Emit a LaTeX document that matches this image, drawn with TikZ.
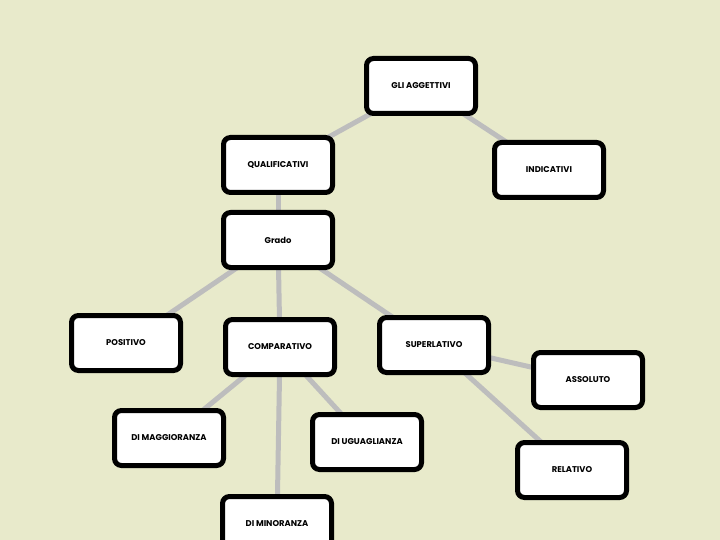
\documentclass[tikz,border=0pt]{standalone}
\usepackage{fontspec}
\setmainfont{Poppins}
\usetikzlibrary{backgrounds}
\definecolor{paper}{HTML}{E8EACB}
\definecolor{linkgray}{HTML}{BDBDBD}
\begin{document}
\begin{tikzpicture}[x=1pt,y=-1pt,font=\bfseries\fontsize{8.4}{10}\selectfont]
  \tikzstyle{kbox}=[draw=black,fill=white,line width=5pt,rounded corners=7pt,minimum width=109pt,minimum height=55pt,inner sep=2pt,align=center]
  \tikzstyle{klink}=[draw=linkgray,line width=5pt]
  \useasboundingbox (0,0) rectangle (720,540);
  \node[kbox] (agg)  at (421,86)  {GLI AGGETTIVI};
  \node[kbox] (ind)  at (549,170) {INDICATIVI};
  \node[kbox] (qual) at (278,165) {QUALIFICATIVI};
  \node[kbox] (gr)   at (278,240) {Grado};
  \node[kbox] (pos)  at (126,343) {POSITIVO};
  \node[kbox] (comp) at (280,347) {COMPARATIVO};
  \node[kbox] (sup)  at (434,345) {SUPERLATIVO};
  \node[kbox] (ass)  at (588,380) {ASSOLUTO};
  \node[kbox] (rel)  at (572,470) {RELATIVO};
  \node[kbox] (mag)  at (169,438) {DI MAGGIORANZA};
  \node[kbox] (ugu)  at (367,442) {DI UGUAGLIANZA};
  \node[kbox] (min)  at (277,524) {DI MINORANZA};
  \begin{scope}[on background layer]
    \fill[paper] (0,0) rectangle (720,540);
    \foreach \a/\b in {agg/qual,agg/ind,qual/gr,gr/pos,gr/comp,gr/sup,sup/ass,sup/rel,comp/mag,comp/ugu,comp/min}
      \draw[klink] (\a.center) -- (\b.center);
  \end{scope}
\end{tikzpicture}
\end{document}
